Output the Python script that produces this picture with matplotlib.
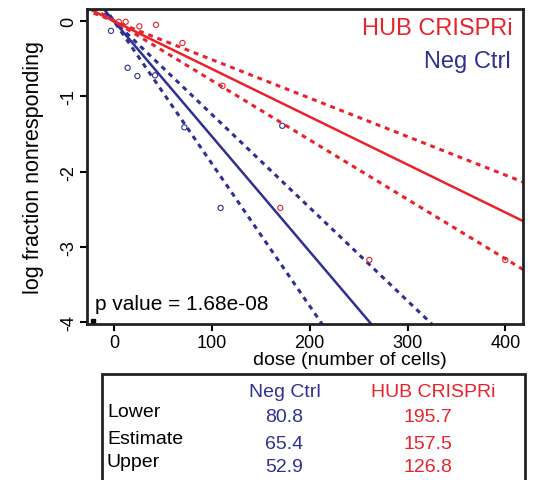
import numpy as np
import matplotlib.pyplot as plt
from matplotlib.patches import Rectangle

plt.rcParams['font.family'] = ['Liberation Sans', 'DejaVu Sans']

RED = '#E8232B'
BLUE = '#2E3192'

# ELDA estimates (1/frequency)
groups = ['Neg Ctrl', 'HUB CRISPRi']
estimate = [65.4, 157.5]
lower = [80.8, 195.7]
upper = [52.9, 126.8]

# observed points (dose, log fraction nonresponding)
red_dose = [5, 12, 26, 43, 70, 111, 170, 261, 400]
red_logf = [-0.01, -0.01, -0.07, -0.05, -0.29, -0.86, -2.48, -3.17, -3.17]
blue_dose = [-3, 14, 24, 42, 72, 109, 172]
blue_logf = [-0.13, -0.62, -0.73, -0.72, -1.41, -2.48, -1.39]

W, H = 533, 481
fig = plt.figure(figsize=(W / 100, H / 100), dpi=100)
ax = fig.add_axes([87 / W, 1 - 325 / H, 436 / W, 315 / H])

x = np.linspace(-30, 420, 200)
for est, lo, up, col in [(estimate[0], lower[0], upper[0], BLUE),
                         (estimate[1], lower[1], upper[1], RED)]:
    ax.plot(x, -x / est, color=col, lw=1.8)
    ax.plot(x, -x / lo, color=col, lw=2.2, ls=(0, (1.6, 1.6)))
    ax.plot(x, -x / up, color=col, lw=2.2, ls=(0, (1.6, 1.6)))

ax.scatter(red_dose, red_logf, s=14, facecolors='none', edgecolors=RED, lw=0.8, zorder=3)
ax.scatter(blue_dose, blue_logf, s=14, facecolors='none', edgecolors=BLUE, lw=0.8, zorder=3)
ax.plot([-21], [-3.98], marker='s', ms=3, color='black', clip_on=False)

ax.set_xlim(-27.5, 418)
ax.set_ylim(-4.02, 0.16)
ax.set_xticks([0, 100, 200, 300, 400])
ax.set_yticks([0, -1, -2, -3, -4])
ax.set_yticklabels(['0', '-1', '-2', '-3', '-4'], rotation=90, va='center')
ax.tick_params(labelsize=13, length=5, width=1.5, direction='out', pad=2)
for s in ax.spines.values():
    s.set_linewidth(2)
    s.set_color('#222222')

ax.set_ylabel('log fraction nonresponding', fontsize=15.5, labelpad=12)
fig.text(350 / W, 1 - 361 / H, 'dose (number of cells)', fontsize=14, ha='center', va='center')

ax.text(513 / W, 1 - 29 / H, 'HUB CRISPRi', color=RED, fontsize=17, ha='right', va='center',
        transform=fig.transFigure)
ax.text(511 / W, 1 - 62 / H, 'Neg Ctrl', color=BLUE, fontsize=17, ha='right', va='center',
        transform=fig.transFigure)
ax.text(95 / W, 1 - 305 / H, 'p value = 1.68e-08', fontsize=15, ha='left', va='center',
        transform=fig.transFigure)

# table below
fig.patches.append(Rectangle((102 / W, -0.05), 423 / W, 1 - 375 / H + 0.05,
                             transform=fig.transFigure, fill=False, lw=2, ec='#222222'))
col_x = [284.5 / W, 433 / W]
for i, g in enumerate(groups):
    col = BLUE if i == 0 else RED
    fig.text(col_x[i], 1 - 393 / H, g, color=col, fontsize=14, ha='center', va='center')
rows = ['Lower', 'Estimate', 'Upper']
row_y = [413, 440, 463]
vals = [lower, estimate, upper]
for r, yy, v in zip(rows, row_y, vals):
    fig.text(107 / W, 1 - yy / H, r, fontsize=14, ha='left', va='center')
    fig.text(284.5 / W, 1 - (yy + 5) / H, f'{v[0]:.1f}', color=BLUE, fontsize=14, ha='center', va='center')
    fig.text(428 / W, 1 - (yy + 5) / H, f'{v[1]:.1f}', color=RED, fontsize=14, ha='center', va='center')

fig.savefig('out.png', dpi=100)
